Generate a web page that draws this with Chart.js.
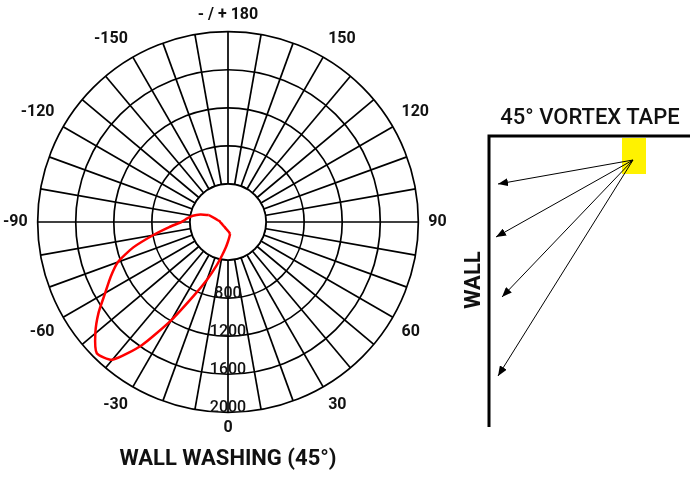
<!DOCTYPE html>
<html lang="en">
  <head>
    <meta charset="UTF-8" />
    <title>Wall Washing (45°)</title>
    <script src="https://cdn.jsdelivr.net/npm/chart.js"></script>
    <style>
      body {
        margin: 0;
        width: 690px;
        height: 480px;
        background: #fff;
        position: relative;
        overflow: hidden;
        font-family: Roboto, Arial, sans-serif;
      }
      .polar-box {
        position: absolute;
        left: 0;
        top: -3px;
        width: 450px;
        height: 450px;
      }
      .title {
        position: absolute;
        left: 0;
        width: 456px;
        top: 445px;
        text-align: center;
        font-size: 22px;
        font-weight: bold;
        color: #111;
      }
      svg {
        position: absolute;
        left: 0;
        top: 0;
      }
    </style>
  </head>
  <body>
    <div class="polar-box">
      <canvas id="polarChart" width="450" height="450"></canvas>
    </div>
    <div class="title">WALL WASHING (45°)</div>

    <svg width="690" height="480">
      <defs>
        <marker id="head" markerWidth="10" markerHeight="8" refX="10" refY="4"
          orient="auto" markerUnits="userSpaceOnUse">
          <path d="M0,0 L10,4 L0,8 z" fill="#000" />
        </marker>
      </defs>
      <text x="590" y="124" text-anchor="middle" font-size="22" font-weight="500"
        fill="#111">45° VORTEX TAPE</text>
      <polyline points="692,136 489,136 489,427" fill="none" stroke="#000" stroke-width="3" />
      <rect x="622" y="138" width="24" height="36" fill="#fff200" />
      <g stroke="#000" stroke-width="1" marker-end="url(#head)">
        <line x1="633" y1="160" x2="498" y2="184" />
        <line x1="633" y1="160" x2="496" y2="237" />
        <line x1="633" y1="160" x2="502" y2="297" />
        <line x1="633" y1="160" x2="498" y2="376" />
      </g>
      <text x="0" y="0" transform="translate(480 280) rotate(-90)" text-anchor="middle"
        font-size="22" font-weight="bold" fill="#111">WALL</text>
    </svg>

    <script>
      // spokes every 5 degrees, going clockwise from the bottom (0)
      const angles = [
        0, -5, -10, -15, -20, -25, -30, -35, -40, -45, -50, -55, -60, -65,
        -70, -75, -80, -85, -90, -95, -100, -105, -110, -115, -120, -125,
        -130, -135, -140, -145, -150, -155, -160, -165, -170, -175, 180,
        175, 170, 165, 160, 155, 150, 145, 140, 135, 130, 125, 120, 115,
        110, 105, 100, 95, 90, 85, 80, 75, 70, 65, 60, 55, 50, 45, 40, 35,
        30, 25, 20, 15, 10, 5,
      ];
      const labelledAngles = [0, -30, -60, -90, -120, -150, 180, 150, 120, 90, 60, 30];
      const ringLabels = [800, 1200, 1600, 2000];

      // outer lobe of the candela curve
      const lobeAngles = [
        10, 5, 0, -5, -10, -15, -20, -25, -30, -35, -40, -45, -50, -55, -60,
        -65, -70, -75, -80, -85, -90, -95, -100, -105, -110,
      ];
      const lobeValues = [
        128, 160, 205, 270, 355, 480, 645, 860, 1190, 1580, 1890, 1950, 1820,
        1660, 1490, 1360, 1230, 1030, 800, 620, 490, 430, 375, 300, 215,
      ];
      // return stroke through the centre
      const innerAngles = [
        -110, -105, -100, -95, -90, -85, -80, -75, -70, -65, -60, -55, -50,
        -45, -40, -35, -30, -25, -20, -15, -10, -5, 0, 5, 10,
      ];
      const innerValues = [
        215, 138, 108, 88, 82, 77, 72, 69, 66, 64, 63, 62, 62, 62, 62, 63, 65,
        68, 71, 75, 79, 86, 94, 105, 128,
      ];

      function onSpokes(keys, vals) {
        return angles.map((a) => {
          const k = keys.indexOf(a);
          return k < 0 ? null : vals[k];
        });
      }

      const holePlugin = {
        id: "hole",
        beforeDatasetsDraw(chart) {
          const s = chart.scales.r;
          const ctx = chart.ctx;
          ctx.save();
          ctx.beginPath();
          ctx.arc(s.xCenter, s.yCenter, s.getDistanceFromCenterForValue(400), 0, Math.PI * 2);
          ctx.fillStyle = "#fff";
          ctx.fill();
          ctx.lineWidth = 1.7;
          ctx.strokeStyle = "#000";
          ctx.stroke();
          ctx.restore();
        },
        afterDatasetsDraw(chart) {
          const s = chart.scales.r;
          const ctx = chart.ctx;
          ctx.save();
          ctx.font = "500 16px Roboto";
          ctx.fillStyle = "#111";
          ctx.textAlign = "center";
          ctx.textBaseline = "alphabetic";
          ringLabels.forEach((v) => {
            ctx.fillText(String(v), s.xCenter, s.yCenter + s.getDistanceFromCenterForValue(v));
          });
          ctx.restore();
        },
      };

      new Chart(document.getElementById("polarChart"), {
        type: "radar",
        data: {
          labels: angles,
          datasets: [
            {
              data: onSpokes(lobeAngles, lobeValues),
              borderColor: "#f00",
              borderWidth: 2.5,
              pointRadius: 0,
              fill: false,
              tension: 0.2,
              spanGaps: false,
            },
            {
              data: onSpokes(innerAngles, innerValues),
              borderColor: "#f00",
              borderWidth: 2.5,
              pointRadius: 0,
              fill: false,
              tension: 0,
              spanGaps: false,
            },
          ],
        },
        options: {
          responsive: false,
          animation: false,
          devicePixelRatio: 1,
          plugins: {
            legend: { display: false },
            tooltip: { enabled: false },
          },
          scales: {
            r: {
              min: 0,
              max: 2000,
              startAngle: 180,
              ticks: { stepSize: 400, display: false },
              grid: { circular: true, color: "#000", lineWidth: 1.7 },
              angleLines: {
                color: "#000",
                lineWidth: (c) => (c.index % 2 === 0 ? 1.7 : 0),
              },
              pointLabels: {
                padding: (c) => (c.index === 0 ? 6 : c.index === 36 ? 7 : 10),
                color: "#111",
                font: { family: "Roboto", size: 16, weight: "bold" },
                callback: (label) => {
                  if (!labelledAngles.includes(label)) return "";
                  return label === 180 ? "- / + 180" : String(label);
                },
              },
            },
          },
        },
        plugins: [holePlugin],
      });
    </script>
  </body>
</html>
